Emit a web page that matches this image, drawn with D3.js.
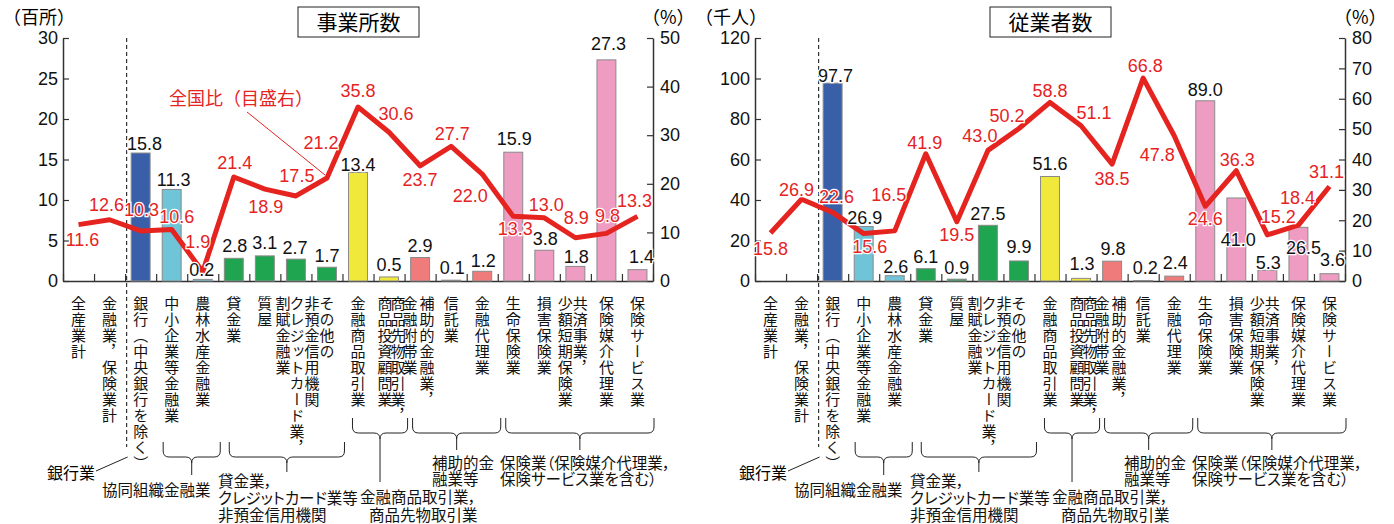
<!DOCTYPE html>
<html>
<head>
<meta charset="utf-8">
<script src="https://cdn.jsdelivr.net/npm/d3@7"></script>
<style>
  body { margin: 0; background: #fff; }
  svg { display: block; }
</style>
</head>
<body>
<div id="wrapper"></div>
<script>
// category names, written vertically; columns are listed right to left
const categoryCols = [
  ["全産業計"],
  ["金融業，保険業計"],
  ["銀行（中央銀行を除く）"],
  ["中小企業等金融業"],
  ["農林水産金融業"],
  ["貸金業"],
  ["質屋"],
  ["クレジットカード業，", "割賦金融業"],
  ["その他の", "非預金信用機関"],
  ["金融商品取引業"],
  ["商品先物取引業，", "商品投資顧問業"],
  ["補助的金融業，", "金融附帯業"],
  ["信託業"],
  ["金融代理業"],
  ["生命保険業"],
  ["損害保険業"],
  ["共済事業，", "少額短期保険業"],
  ["保険媒介代理業"],
  ["保険サービス業"],
]
const sectors = ["total", "total", "bank", "coop", "coop", "nonbank", "nonbank", "nonbank", "nonbank",
  "sec", "sec", "aux", "aux", "aux", "ins", "ins", "ins", "ins", "ins"]

// 事業所数 (百所) and 全国比 (%)
const estCounts = [null, null, 15.8, 11.3, 0.2, 2.8, 3.1, 2.7, 1.7, 13.4, 0.5, 2.9, 0.1, 1.2, 15.9, 3.8, 1.8, 27.3, 1.4]
const estRatio = [11.6, 12.6, 10.3, 10.6, 1.9, 21.4, 18.9, 17.5, 21.2, 35.8, 30.6, 23.7, 27.7, 22.0, 13.3, 13.0, 8.9, 9.8, 13.3]
// 従業者数 (千人) and 全国比 (%)
const empCounts = [null, null, 97.7, 26.9, 2.6, 6.1, 0.9, 27.5, 9.9, 51.6, 1.3, 9.8, 0.2, 2.4, 89.0, 41.0, 5.3, 26.5, 3.6]
const empRatio = [15.8, 26.9, 22.6, 15.6, 16.5, 41.9, 19.5, 43.0, 50.2, 58.8, 51.1, 38.5, 66.8, 47.8, 24.6, 36.3, 15.2, 18.4, 31.1]

const estCountTicks = [0, 5, 10, 15, 20, 25, 30]
const estRatioTicks = [0, 10, 20, 30, 40, 50]
const empCountTicks = [0, 20, 40, 60, 80, 100, 120]
const empRatioTicks = [0, 10, 20, 30, 40, 50, 60, 70, 80]

// brackets under the category names
const groups = [
  { from: 3, to: 4, lines: ["協同組織金融業"] },
  { from: 5, to: 8, lines: ["貸金業，", "クレジットカード業等", "非預金信用機関"] },
  { from: 9, to: 10, lines: ["金融商品取引業，", "商品先物取引業"] },
  { from: 11, to: 13, lines: ["補助的金", "融業等"] },
  { from: 14, to: 18, lines: ["保険業（保険媒介代理業，", "保険サービス業を含む）"] },
]


// ---- layout / style ----
const fontNum = '"Liberation Sans", Arial, sans-serif'
const fontJp = '"Noto Sans CJK JP", "Noto Sans CJK SC", sans-serif'
const red = "#e5231f"
const sectorColor = {
  bank: "#3a5fa9", coop: "#6fc5d7", nonbank: "#1fa44f",
  sec: "#f1e83c", aux: "#ef7b7b", ins: "#ef9cc3", total: "none",
}

// x shift of each column for two-column names
const colShift = { 7: [1, -13], 8: [0, -15], 10: [9, -4], 11: [7, -10], 16: [5, -10] }

// bracket geometry: y of the arms, y of the bar, foot of the stem, caption x / baselines
const groupLayout = [
  { top: 442, mid: 457, foot: 475, x0: 7, x1: 2, tx: 102, ty: [496] },
  { top: 442, mid: 457, foot: 472, x0: 11, x1: 2, tx: 218, ty: [487, 504, 521] },
  { top: 418, mid: 433, foot: 482, x0: 10, x1: 3, tx: [360, 369], ty: [503, 521] },
  { top: 418, mid: 433, foot: 450, x0: 8, x1: 3, tx: 432, ty: [469, 485] },
  { top: 418, mid: 433, foot: 450, x0: 8, x1: 1, tx: 500, ty: [469, 485] },
]

// label nudges [dx, dy of text centre] relative to point / bar top
const estRatioNudge = [[4, 15], [-3, -15], [1, -21], [5, -13], [-5, -30], [1, -14], [1, 17], [1, -20], [-6, -35],
  [0, -17], [7, -19], [0, 14], [1, -13], [-12, 21], [2, 12], [2, -13], [1, -20], [1, -18], [-3, -16]]
const estCountNudge = [null, null, [4, -10], [2, -10], [-1, -10], [1, -13], [0, -13], [-1, -12], [0, -12],
  [0, -8], [0, -12], [0, -12], [1, -13], [1, -11], [1, -14], [1, -12], [1, -10], [2, -16], [4, -13]]
const empRatioNudge = [[0, 15], [-5, -10], [4, -16], [6, 13], [-6, -36], [-1, -11], [0, 13], [-8, -15], [-12, -13],
  [0, -12], [13, -13], [0, 14], [2, -13], [-17, 19], [0, 12], [1, -11], [11, -18], [-1, -28], [-3, -15]]
const empCountNudge = [null, null, [3, -8], [1, -9], [1, -9], [0, -12], [0, -12], [0, -12], [0, -14],
  [0, -13], [1, -15], [1, -13], [2, -13], [1, -14], [0, -11], [2, 42], [1, -8], [5, 20], [3, -14]]


function drawPanel(svg, p) {
  const n = categoryCols.length
  const left = 63, right = 653, top = 38, bottom = 281

  const g = svg.append("g").attr("transform", `translate(${p.offset},0)`)

  const xScale = d3.scaleBand().domain(d3.range(n)).range([left, right])
  const xEdge = d3.scaleLinear().domain([0, n]).range([left, right])
  const yCount = d3.scaleLinear().domain([0, d3.max(p.countTicks)]).range([bottom, top])
  const yRatio = d3.scaleLinear().domain([0, d3.max(p.ratioTicks)]).range([bottom, top])
  const cx = i => xScale(i) + xScale.bandwidth() / 2
  const barWidth = xScale.bandwidth() * 0.61

  // axes
  const leftAxis = g.append("g")
    .attr("transform", `translate(${left},0)`)
    .call(d3.axisLeft(yCount).tickValues(p.countTicks).tickSizeInner(-6).tickSizeOuter(0).tickPadding(5))
  const rightAxis = g.append("g")
    .attr("transform", `translate(${right},0)`)
    .call(d3.axisRight(yRatio).tickValues(p.ratioTicks).tickSizeInner(-6).tickSizeOuter(0).tickPadding(7))
  const bottomAxis = g.append("g")
    .attr("transform", `translate(0,${bottom})`)
    .call(d3.axisBottom(xEdge).tickValues(d3.range(0, n + 1)).tickSizeInner(-7).tickSizeOuter(0).tickFormat(""))
  for (const ax of [leftAxis, rightAxis, bottomAxis]) {
    ax.select(".domain").attr("stroke", "#333").attr("stroke-width", 1.5)
    ax.selectAll(".tick line").attr("stroke", "#333").attr("stroke-width", 1.2)
    ax.selectAll(".tick text")
      .attr("fill", "#111")
      .style("font-family", fontNum)
      .style("font-size", "18px")
  }

  // title box
  g.append("rect")
    .attr("x", 298).attr("y", 7).attr("width", 121).attr("height", 30)
    .attr("fill", "#fff").attr("stroke", "#222").attr("stroke-width", 1)
  g.append("text")
    .attr("x", 358.5).attr("y", 30)
    .attr("text-anchor", "middle")
    .style("font-family", fontJp).style("font-size", "21px")
    .text(p.title)

  // unit labels
  g.append("text")
    .attr("x", 3).attr("y", 24)
    .style("font-family", fontJp).style("font-size", "18px")
    .text(p.unit)
  g.append("text")
    .attr("x", 642).attr("y", 24)
    .style("font-family", fontJp).style("font-size", "18px")
    .text("（%）")

  // dashed divider and 銀行業 leader
  const divX = xEdge(2) + 1.5
  g.append("line")
    .attr("x1", divX).attr("x2", divX).attr("y1", top).attr("y2", 447)
    .attr("stroke", "#333").attr("stroke-width", 1.2).attr("stroke-dasharray", "4,3")
  g.append("line")
    .attr("x1", divX + 1).attr("y1", 457).attr("x2", 96).attr("y2", 471)
    .attr("stroke", "#222").attr("stroke-width", 1)
  g.append("text")
    .attr("x", 47).attr("y", 479)
    .style("font-family", fontJp).style("font-size", "16px")
    .text("銀行業")

  // bars
  const barData = p.counts.map((v, i) => ({ v, i })).filter(d => d.v != null)
  g.append("g").selectAll("rect")
    .data(barData)
    .join("rect")
      .attr("x", d => cx(d.i) - barWidth / 2)
      .attr("y", d => yCount(d.v))
      .attr("width", barWidth)
      .attr("height", d => bottom - yCount(d.v))
      .attr("fill", d => sectorColor[sectors[d.i]])
      .attr("stroke", "#8a8a8a")
      .attr("stroke-width", 1)

  // ratio line
  const line = d3.line()
    .x((d, i) => cx(i))
    .y(d => yRatio(d))
  g.append("path")
    .datum(p.ratios)
    .attr("d", line)
    .attr("fill", "none")
    .attr("stroke", red)
    .attr("stroke-width", 5)
    .attr("stroke-linejoin", "round")

  // note
  if (p.showNote) {
    g.append("line")
      .attr("x1", 247).attr("y1", 112).attr("x2", 325).attr("y2", 175)
      .attr("stroke", red).attr("stroke-width", 1)
    g.append("text")
      .attr("x", 169).attr("y", 105)
      .attr("fill", red)
      .style("font-family", fontJp).style("font-size", "18px")
      .text("全国比（目盛右）")
  }

  // value labels (halo so they read over the line / bars)
  const labelStyle = sel => sel
    .attr("text-anchor", "middle")
    .attr("stroke", "#fff").attr("stroke-width", 2.5)
    .attr("paint-order", "stroke")
    .style("font-family", fontNum).style("font-size", "18px")

  g.append("g").selectAll("text")
    .data(barData)
    .join("text")
      .attr("x", d => cx(d.i) + p.countNudge[d.i][0])
      .attr("y", d => yCount(d.v) + p.countNudge[d.i][1] + 6.5)
      .attr("fill", "#111")
      .call(labelStyle)
      .text(d => d3.format(".1f")(d.v))

  g.append("g").selectAll("text")
    .data(p.ratios)
    .join("text")
      .attr("x", (d, i) => cx(i) + p.ratioNudge[i][0])
      .attr("y", (d, i) => yRatio(d) + p.ratioNudge[i][1] + 6.5)
      .attr("fill", red)
      .call(labelStyle)
      .text(d => d3.format(".1f")(d))

  // vertical category names
  const colData = []
  categoryCols.forEach((cols, i) => {
    cols.forEach((t, k) => {
      const shift = cols.length > 1 ? colShift[i][k] : 0
      colData.push({ t, x: cx(i) + shift })
    })
  })
  g.append("g").selectAll("text")
    .data(colData)
    .join("text")
      .attr("x", d => d.x)
      .attr("y", 296)
      .style("writing-mode", "vertical-rl")
      .style("text-orientation", "mixed")
      .style("font-family", fontJp)
      .style("font-size", "15px")
      .style("letter-spacing", "1px")
      .attr("fill", "#111")
      .text(d => d.t)

  // brackets
  groups.forEach((grp, k) => {
    const L = groupLayout[k]
    const x1 = xEdge(grp.from) + L.x0
    const x2 = xEdge(grp.to + 1) + L.x1
    const mx = (xEdge(grp.from) + xEdge(grp.to + 1)) / 2 + (L.x0 + L.x1) / 2
    const r = 6
    const path = d3.path()
    path.moveTo(x1, L.top)
    path.lineTo(x1, L.mid - r)
    path.quadraticCurveTo(x1, L.mid, x1 + r, L.mid)
    path.lineTo(mx - r, L.mid)
    path.quadraticCurveTo(mx, L.mid, mx, L.mid + r)
    path.quadraticCurveTo(mx, L.mid, mx + r, L.mid)
    path.lineTo(x2 - r, L.mid)
    path.quadraticCurveTo(x2, L.mid, x2, L.mid - r)
    path.lineTo(x2, L.top)
    path.moveTo(mx, L.mid + r)
    path.lineTo(mx, L.foot)
    g.append("path")
      .attr("d", path.toString())
      .attr("fill", "none")
      .attr("stroke", "#222")
      .attr("stroke-width", 1)

    grp.lines.forEach((t, j) => {
      g.append("text")
        .attr("x", Array.isArray(L.tx) ? L.tx[j] : L.tx)
        .attr("y", L.ty[j])
        .style("font-family", fontJp).style("font-size", "15.5px")
        .style("font-feature-settings", '"palt"')
        .attr("fill", "#111")
        .text(t)
    })
  })
}


function drawChart() {
  const svg = d3.select("#wrapper")
    .append("svg")
      .attr("width", 1394)
      .attr("height", 524)

  drawPanel(svg, {
    offset: 0, title: "事業所数", unit: "（百所）", showNote: true,
    counts: estCounts, ratios: estRatio, countTicks: estCountTicks, ratioTicks: estRatioTicks,
    countNudge: estCountNudge, ratioNudge: estRatioNudge,
  })
  drawPanel(svg, {
    offset: 692, title: "従業者数", unit: "（千人）", showNote: false,
    counts: empCounts, ratios: empRatio, countTicks: empCountTicks, ratioTicks: empRatioTicks,
    countNudge: empCountNudge, ratioNudge: empRatioNudge,
  })
}

drawChart()
</script>
</body>
</html>
